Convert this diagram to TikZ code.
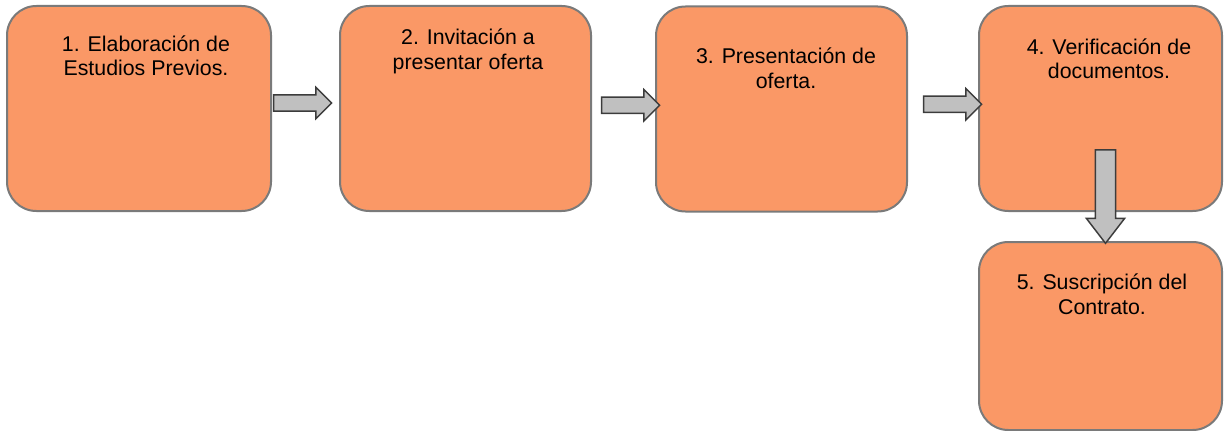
\documentclass[tikz,border=0pt]{standalone}
\usepackage{fontspec}
\setmainfont{Liberation Sans}
\usetikzlibrary{shapes.arrows,calc}

\definecolor{boxorange}{RGB}{250,152,102}
\definecolor{boxline}{RGB}{122,122,122}
\definecolor{arrowgray}{RGB}{192,192,192}
\definecolor{arrowline}{RGB}{60,60,60}

\tikzset{
  stepbox/.style={draw=boxline, line width=1.5pt, fill=boxorange, rounded corners=22pt, inner sep=0pt, minimum height=153.75pt},
  steplabel/.style={align=center, anchor=base, inner sep=0pt, font=\fontsize{16}{18.4}\selectfont},
  blockarrow/.style={single arrow, draw=arrowline, fill=arrowgray, line width=1.1pt, inner xsep=0pt,
    inner ysep=5.6pt, single arrow head extend=5.6pt, minimum height=43.5pt},
  downarrow/.style={blockarrow, shape border rotate=270, inner xsep=7.1pt, inner ysep=0pt,
    single arrow head extend=6.75pt, single arrow tip angle=75, minimum height=70pt}
}

\begin{document}
\begin{tikzpicture}[x=0.75pt,y=-0.75pt]
  \useasboundingbox (0,0) rectangle (1224,431);
  % steps
  \node[stepbox, minimum width=198pt] (b1) at (139,108.5) {};
  \node[stepbox, minimum width=188.25pt] (b2) at (465.5,108.5) {};
  \node[stepbox, minimum width=188.25pt] (b3) at (781.5,109) {};
  \node[stepbox, minimum width=182.25pt] (b4) at (1100.5,108.5) {};
  \node[stepbox, minimum width=182.25pt, minimum height=141pt] (b5) at (1100.5,336) {};

  \node[steplabel] (t1) at ($(b1.north)+(7,71)$) {1. Elaboración de\\Estudios Previos.};
  \node[steplabel] (t2) at ($(b2.north)+(2.5,64.5)$) {2. Invitación a\\presentar oferta};
  \node[steplabel] (t3) at ($(b3.north)+(4.5,83)$) {3. Presentación de\\oferta.};
  \node[steplabel] (t4) at ($(b4.north)+(8.5,74)$) {4. Verificación de\\documentos.};
  \node[steplabel] (t5) at ($(b5.north)+(1.5,73.5)$) {5. Suscripción del\\Contrato.};

  % arrows between steps
  \node[blockarrow] (a12) at ($(b1.east)!.5!(b2.west)+(-7,-5.5)$) {};
  \node[blockarrow] (a23) at ($(b2.east)!.5!(b3.west)+(3,-3.5)$) {};
  \node[blockarrow] (a34) at ($(b3.east)!.5!(b4.west)+(5.5,-4.5)$) {};
  \node[downarrow] (a45) at ($(b4.south)!.5!(b5.north)+(5,-36.5)$) {};
\end{tikzpicture}
\end{document}
